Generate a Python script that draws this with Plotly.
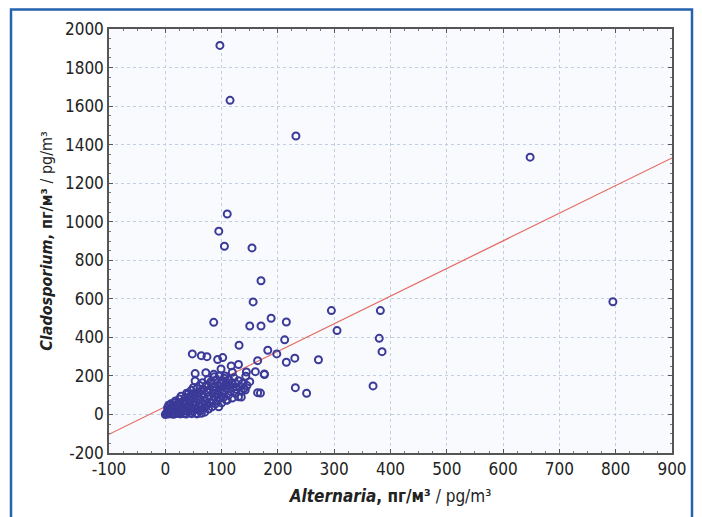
import plotly.graph_objects as go

# Alternaria (x) and Cladosporium (y) concentrations, pg/m3
alternaria = [
    97, 115, 232, 648, 795,
    110, 95, 105, 154, 170, 156,
    86, 150, 170, 188, 215, 212,
    295, 382, 305, 380, 385,
    182, 198, 215, 230, 272, 176,
    231, 251, 369, 169,
    131, 48, 64, 74, 93, 102,
    117, 130, 164, 53, 53, 72, 86, 99, 119, 144, 160, 176, 143, 105, 164, 130, 110,
    2, 3, 5, 4, 6, 8, 8, 10, 10, 12,
    12, 14, 15, 16, 18, 18, 20, 20,
    22, 23, 24, 25, 26, 28, 28, 30,
    31, 32, 33, 34, 35, 36, 38, 38, 40, 40,
    41, 42, 43, 44, 45, 46, 47, 48, 49, 50,
    51, 52, 53, 54, 55, 56, 57, 58, 59, 60,
    61, 62, 63, 64, 65, 66, 67, 68, 69, 70,
    71, 72, 73, 74, 75, 76, 77, 78, 79, 80,
    81, 82, 83, 84, 85, 86, 87, 88, 89, 90,
    91, 92, 93, 94, 95, 96, 97, 98, 99, 100,
    101, 102, 103, 104, 105, 106, 108, 109, 110,
    112, 113, 114, 116, 118, 119, 120,
    122, 124, 125, 127, 130, 132, 135, 137, 140, 142, 145, 150, 135,
    0, 6, 15, 27, 37, 47, 56, 64,
]
cladosporium = [
    1915, 1630, 1445, 1335, 585,
    1040, 951, 873, 864, 694, 584,
    478, 459, 459, 499, 480, 387,
    539, 539, 435, 395, 326,
    333, 314, 271, 292, 284, 207,
    139, 110, 148, 111,
    359, 314, 305, 300, 285, 295,
    252, 259, 279, 212, 174, 217, 208, 236, 219, 220, 222, 210, 198, 188, 113, 92, 74,
    5, 12, 20, 35, 48, 8, 28, 55, 15, 3,
    40, 22, 60, 8, 32, 70, 15, 48,
    5, 28, 60, 80, 42, 12, 95, 30,
    55, 70, 5, 20, 40, 88, 110, 62, 15, 30,
    108, 50, 75, 8, 95, 125, 35, 60, 18, 140,
    82, 45, 110, 25, 65, 135, 5, 95, 117, 40,
    150, 78, 20, 105, 55, 165, 130, 32, 90, 12,
    70, 145, 151, 48, 115, 180, 28, 95, 130, 60,
    170, 160, 40, 110, 75, 145, 195, 90, 55, 125,
    180, 70, 105, 150, 40, 200, 85, 130, 165, 60,
    110, 175, 145, 90, 120, 200, 75, 160, 135,
    100, 180, 150, 120, 165, 85, 140,
    190, 110, 160, 130, 175, 145, 120, 160, 135, 127, 150, 170, 90,
    0, 2, 1, 3, 2, 4, 3, 6,
]

# Linear fit
fit_slope = 1.434
fit_intercept = 40.4
fit_x = [-100, 900]
fit_y = [fit_intercept + fit_slope * v for v in fit_x]

x_ticks = [-100, 0, 100, 200, 300, 400, 500, 600, 700, 800, 900]
x_labels = ["-100", "0", "100", "200", "300", "400", "500", "600", "700", "800", "900"]
y_ticks = [-200, 0, 200, 400, 600, 800, 1000, 1200, 1400, 1600, 1800, 2000]
y_labels = ["-200", "0", "200", "400", "600", "800", "1000", "1200", "1400", "1600", "1800", "2000"]

FONT = "DejaVu Sans Condensed, Liberation Sans Narrow, sans-serif"

fig = go.Figure()
fig.add_trace(go.Scatter(
    x=fit_x, y=fit_y, mode="lines",
    line=dict(color="#e4685f", width=1.2), hoverinfo="skip", showlegend=False,
))
fig.add_trace(go.Scatter(
    x=alternaria, y=cladosporium, mode="markers",
    marker=dict(symbol="circle-open", size=7, color="#3b3a98",
                line=dict(width=2, color="#3b3a98")),
    showlegend=False,
))

axis_common = dict(
    showline=True, linecolor="#555555", linewidth=1.5, mirror="ticks",
    ticks="inside", ticklen=4, tickcolor="#555555", tickwidth=1,
    showgrid=True, gridcolor="#c3cee0", griddash="3px,3px", gridwidth=1,
    zeroline=False, automargin=False,
    tickfont=dict(family=FONT, size=17, color="#222222"),
)

fig.update_xaxes(
    range=[-100, 900], tickvals=x_ticks, ticktext=x_labels,
    minor=dict(ticks="inside", ticklen=2, dtick=25, tickcolor="#777777", showgrid=False),
    title=dict(text="<b><i>Alternaria</i>, пг/м³</b> / pg/m³",
               font=dict(family=FONT, size=17, color="#222222"), standoff=12),
    **axis_common,
)
fig.update_yaxes(
    range=[-200, 2000], tickvals=y_ticks, ticktext=y_labels,
    minor=dict(ticks="inside", ticklen=2, dtick=50, tickcolor="#777777", showgrid=False),
    title=dict(text="<b><i>Cladosporium</i>, пг/м³</b> / pg/m³",
               font=dict(family=FONT, size=16, color="#222222"), standoff=8),
    **axis_common,
)

# page body adds an 8 px offset, so the figure's own pixel origin is at (8, 8) on screen
OFF = 8
W, H = 702, 517
L, T = 109 - OFF, 29 - OFF
R = W - (672 - OFF)
B = H - (453 - OFF)
pw, ph = W - L - R, H - T - B

fig.update_layout(
    width=W, height=H,
    margin=dict(l=L, r=R, t=T, b=B, autoexpand=False),
    paper_bgcolor="white", plot_bgcolor="#f8fafd",
    shapes=[dict(
        type="rect", xref="paper", yref="paper",
        x0=(11 - OFF - L) / pw, x1=(692 - OFF - L) / pw,
        y0=(H - B - 540) / ph, y1=(H - B - 1.5) / ph,
        line=dict(color="#2463ad", width=2.5), fillcolor="rgba(0,0,0,0)", layer="below",
    )],
)

fig.write_html("out.html")
